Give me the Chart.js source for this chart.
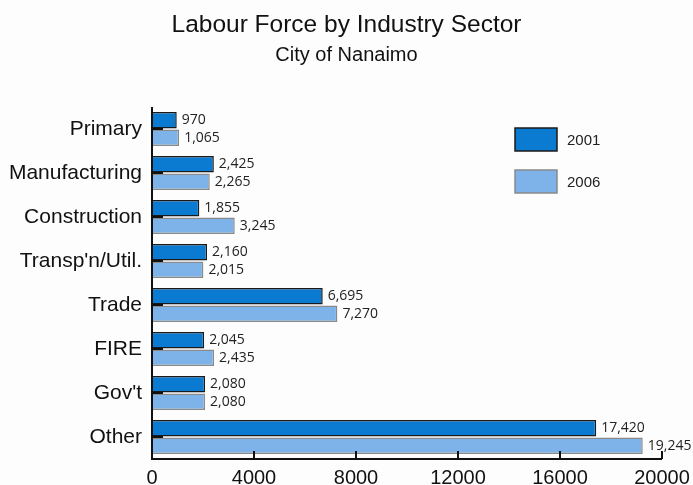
<!DOCTYPE html>
<html><head><meta charset="utf-8">
<script src="https://cdn.jsdelivr.net/npm/chart.js@4"></script>
<style>html,body{margin:0;padding:0;background:#fdfdfd;}#wrap{width:693px;height:485px;}</style>
</head><body><div id="wrap"><canvas id="c" width="693" height="485"></canvas></div>
<script>
const categories = ["Primary","Manufacturing","Construction","Transp'n/Util.","Trade","FIRE","Gov't","Other"];
const values2001 = [970,2425,1855,2160,6695,2045,2080,17420];
const values2006 = [1065,2265,3245,2015,7270,2435,2080,19245];
const seriesNames = ["2001","2006"];
const xTicks = [0,4000,8000,12000,16000,20000];
const titleText = 'Labour Force by Industry Sector';
const subtitleText = 'City of Nanaimo';

const fmt = v => v.toLocaleString('en-US');

const extras = {
  id:'extras',
  afterDatasetsDraw(chart){
    const ctx = chart.ctx;
    const xs = chart.scales.x, ys = chart.scales.y;
    const area = chart.chartArea;
    ctx.save();
    // titles
    ctx.fillStyle = '#111';
    ctx.textAlign = 'center';
    ctx.textBaseline = 'alphabetic';
    ctx.font = '24.5px "Liberation Sans", Arial, sans-serif';
    ctx.fillText(titleText, chart.width/2, 32);
    ctx.font = '20px "Liberation Sans", Arial, sans-serif';
    ctx.fillText(subtitleText, chart.width/2, 61);
    // value labels
    ctx.font = '14px "Open Sans", sans-serif';
    ctx.fillStyle = '#222';
    ctx.textBaseline = 'middle';
    ctx.textAlign = 'left';
    chart.data.datasets.forEach((ds,di)=>{
      const meta = chart.getDatasetMeta(di);
      meta.data.forEach((bar,i)=>{
        ctx.fillText(fmt(ds.data[i]), bar.x + 5, bar.y);
      });
    });
    // axes lines
    ctx.strokeStyle = '#111';
    ctx.lineWidth = 2;
    ctx.beginPath();
    ctx.moveTo(area.left, area.top);
    ctx.lineTo(area.left, area.bottom);
    ctx.lineTo(area.right, area.bottom);
    ctx.stroke();
    // x ticks inward
    xs.ticks.forEach(t=>{
      const px = xs.getPixelForValue(t.value);
      ctx.beginPath();
      ctx.moveTo(px, area.bottom);
      ctx.lineTo(px, area.bottom - 8);
      ctx.stroke();
    });
    // y ticks inward
    ys.ticks.forEach((t,i)=>{
      const py = ys.getPixelForTick(i);
      ctx.beginPath();
      ctx.moveTo(area.left, py);
      ctx.lineTo(area.left + 11, py);
      ctx.stroke();
    });
    // legend
    ctx.lineWidth = 1.5;
    chart.data.datasets.forEach((ds,di)=>{
      const bx = 515, by = 128 + di*42, bw = 42, bh = 23;
      ctx.fillStyle = ds.backgroundColor;
      ctx.fillRect(bx, by, bw, bh);
      ctx.strokeStyle = ds.borderColor;
      ctx.strokeRect(bx, by, bw, bh);
      ctx.fillStyle = '#222';
      ctx.font = '15px "Liberation Sans", Arial, sans-serif';
      ctx.textAlign = 'left';
      ctx.textBaseline = 'middle';
      ctx.fillText(ds.label, bx + 52, by + bh/2 + 1);
    });
    ctx.restore();
  }
};

new Chart(document.getElementById('c'), {
  type:'bar',
  data:{
    labels: categories,
    datasets:[
      {label: seriesNames[0], data: values2001, backgroundColor:'#0a7bd0', borderColor:'#1a1a1a', borderWidth:1.5, borderSkipped:'left'},
      {label: seriesNames[1], data: values2006, backgroundColor:'#7db3e8', borderColor:'#8a8a8a', borderWidth:1.5, borderSkipped:'left'}
    ]
  },
  options:{
    indexAxis:'y',
    responsive:false,
    animation:false,
    devicePixelRatio:1,
    datasets:{bar:{categoryPercentage:0.8, barPercentage:0.94}},
    layout:{padding:{left:0,right:31,top:107,bottom:0}},
    plugins:{
      legend:{display:false},
      tooltip:{enabled:false},
      title:{display:false},
      subtitle:{display:false}
    },
    scales:{
      x:{min:0,max:20000,
        afterBuildTicks(s){ s.ticks = xTicks.map(v=>({value:v})); },
        grid:{display:false, drawTicks:false},
        border:{display:false},
        ticks:{color:'#111', padding:7, font:{family:'"Liberation Sans", Arial, sans-serif', size:20}, maxRotation:0, callback:v=>String(v)},
        afterFit(s){ s.height = 26; s.paddingLeft = 0; s.paddingRight = 0; }
      },
      y:{
        grid:{display:false, drawTicks:false},
        border:{display:false},
        ticks:{color:'#111', padding:10, font:{family:'"Liberation Sans", Arial, sans-serif', size:21}},
        afterFit(s){ s.width = 152; s.paddingTop = 0; s.paddingBottom = 0; }
      }
    }
  },
  plugins:[extras]
});
</script></body></html>
